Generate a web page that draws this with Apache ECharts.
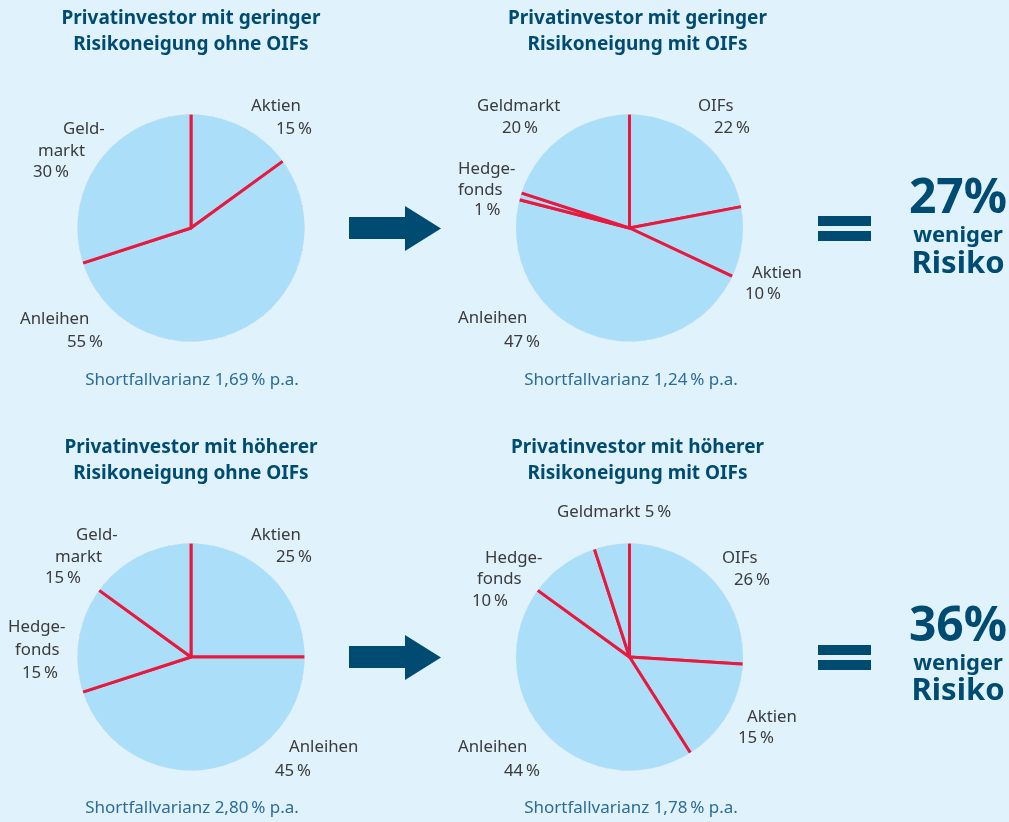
<!DOCTYPE html>
<html><head><meta charset="utf-8">
<script src="https://cdn.jsdelivr.net/npm/echarts@6/dist/echarts.min.js"></script>
<style>html,body{margin:0;padding:0;background:#e0f2fb}#c{width:1009px;height:822px}</style>
</head><body><div id="c"></div>
<script>
// ---- data ----
const names1 = ['Aktien', 'Anleihen', 'Geldmarkt'];
const values1 = [15, 55, 30];
const names2 = ['OIFs', 'Aktien', 'Anleihen', 'Hedgefonds', 'Geldmarkt'];
const values2 = [22, 10, 47, 1, 20];
const names3 = ['Aktien', 'Anleihen', 'Hedgefonds', 'Geldmarkt'];
const values3 = [25, 45, 15, 15];
const names4 = ['OIFs', 'Aktien', 'Anleihen', 'Hedgefonds', 'Geldmarkt'];
const values4 = [26, 15, 44, 10, 5];
const titles = [
  ['Privatinvestor mit geringer', 'Risikoneigung ohne OIFs'],
  ['Privatinvestor mit geringer', 'Risikoneigung mit OIFs'],
  ['Privatinvestor mit höherer', 'Risikoneigung ohne OIFs'],
  ['Privatinvestor mit höherer', 'Risikoneigung mit OIFs']
];
const shortfall = ['1,69', '1,24', '2,80', '1,78'];
const reduction = ['27', '36'];

// ---- style / layout ----
const BG = '#e0f2fb', FILL = '#abdff9', RED = '#e8193e', NAVY = '#004b72', TXT = '#3b3b3b', BLUE = '#2b6c99';
const FONT = '"Noto Sans", "Open Sans", sans-serif';
const R = 113.5;
const pies = [
  {names: names1, values: values1, c: [191, 228]},
  {names: names2, values: values2, c: [629.5, 228]},
  {names: names3, values: values3, c: [191, 657]},
  {names: names4, values: values4, c: [629.5, 657]}
];
// label line layout: [sliceIndex, part, x(left), y(center)]
const labelLayout = [
  [[0,'name',251,106],[0,'pct',276,129],[2,'n1',63,129],[2,'n2',38,151],[2,'pct',33,172],[1,'name',20,319],[1,'pct',67,342]],
  [[4,'name',477,106],[4,'pct',502,128],[0,'name',698,106],[0,'pct',714,128],[3,'n1',458,169],[3,'n2',458,190],[3,'pct',474,210],[1,'name',752,273],[1,'pct',745,294],[2,'name',458,318],[2,'pct',504,342]],
  [[0,'name',251,535],[0,'pct',276,557],[3,'n1',76,535],[3,'n2',55,557],[3,'pct',45,578],[2,'n1',8,627],[2,'n2',15,650],[2,'pct',22,673],[1,'name',289,747],[1,'pct',275,771]],
  [[4,'namepct',557,512],[0,'name',722,558],[0,'pct',734,580],[3,'n1',485,558],[3,'n2',477,579],[3,'pct',472,601],[1,'name',747,717],[1,'pct',738,738],[2,'name',458,747],[2,'pct',504,771]]
];
const splitAt = {Geldmarkt: 4, Hedgefonds: 5};
function part(name, val, p) {
  const pct = val + '\u2009%';
  if (p === 'name') return name;
  if (p === 'pct') return pct;
  if (p === 'namepct') return name + ' ' + pct;
  const k = splitAt[name];
  return p === 'n1' ? name.slice(0, k) + '-' : name.slice(k);
}

const series = [];
pies.forEach(p => {
  series.push({
    type: 'pie', center: p.c, radius: R + 2, startAngle: 90, clockwise: true,
    silent: true, animation: false, label: {show: false}, labelLine: {show: false},
    emphasis: {disabled: true},
    itemStyle: {color: FILL, borderColor: RED, borderWidth: 3},
    data: p.names.map((n, i) => ({name: n, value: p.values[i]}))
  });
  series.push({
    type: 'pie', center: p.c, radius: [R, R + 8], silent: true, animation: false,
    label: {show: false}, labelLine: {show: false}, emphasis: {disabled: true},
    itemStyle: {color: BG, borderWidth: 0}, data: [{value: 1}]
  });
});

const graphic = [];
// labels
pies.forEach((p, pi) => {
  labelLayout[pi].forEach(([i, pt, x, y]) => {
    graphic.push({type: 'text', x: x, y: y, silent: true,
      style: {text: part(p.names[i], p.values[i], pt), fill: TXT, font: '16.8px ' + FONT, textAlign: 'left', textVerticalAlign: 'middle'}});
  });
});
// titles
const titlePos = [[191, 19], [637.5, 19], [191, 448], [637.5, 448]];
titles.forEach((t, i) => {
  t.forEach((line, j) => graphic.push({type: 'text', x: titlePos[i][0], y: titlePos[i][1] + j * 26, silent: true,
    style: {text: line, fill: NAVY, font: 'bold 19px ' + FONT, textAlign: 'center', textVerticalAlign: 'middle'}}));
});
// shortfall
const sfPos = [[192, 380], [631, 380], [192, 808], [631, 808]];
shortfall.forEach((s, i) => graphic.push({type: 'text', x: sfPos[i][0], y: sfPos[i][1], silent: true,
  style: {text: 'Shortfallvarianz ' + s + '\u2009% p.a.', fill: BLUE, font: '17px ' + FONT, textAlign: 'center', textVerticalAlign: 'middle'}}));
// arrows, equals, reduction
[0, 429].forEach((dy, k) => {
  graphic.push({type: 'polygon', silent: true, shape: {points: [[349,217+dy],[405,217+dy],[405,206+dy],[441,228.5+dy],[405,251+dy],[405,239+dy],[349,239+dy]]}, style: {fill: NAVY}});
  graphic.push({type: 'rect', silent: true, shape: {x: 818, y: 216 + dy, width: 53, height: 10}, style: {fill: NAVY}});
  graphic.push({type: 'rect', silent: true, shape: {x: 818, y: 231 + dy, width: 53, height: 10}, style: {fill: NAVY}});
  const yy = k === 0 ? [199, 236, 264] : [627, 664, 691];
  graphic.push({type: 'text', x: 958, y: yy[0], silent: true, style: {text: reduction[k] + '%', fill: NAVY, font: 'bold 48px ' + FONT, textAlign: 'center', textVerticalAlign: 'middle'}});
  graphic.push({type: 'text', x: 958, y: yy[1], silent: true, style: {text: 'weniger', fill: NAVY, font: 'bold 22px ' + FONT, textAlign: 'center', textVerticalAlign: 'middle'}});
  graphic.push({type: 'text', x: 958, y: yy[2], silent: true, style: {text: 'Risiko', fill: NAVY, font: 'bold 31px ' + FONT, textAlign: 'center', textVerticalAlign: 'middle'}});
});

const chart = echarts.init(document.getElementById('c'));
chart.setOption({backgroundColor: BG, animation: false, series: series, graphic: graphic});
</script></body></html>
